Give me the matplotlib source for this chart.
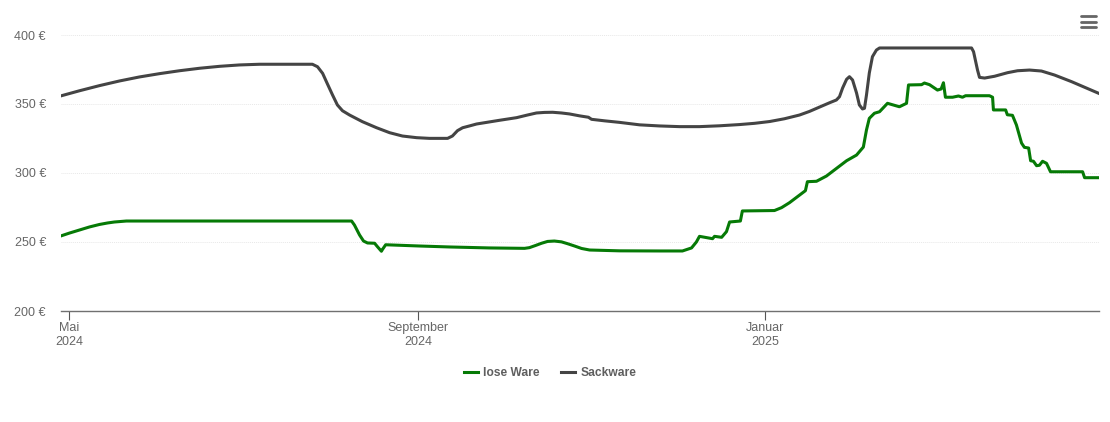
import pandas as pd
import matplotlib
matplotlib.use("Agg")
import matplotlib.pyplot as plt
from matplotlib.lines import Line2D

# days counted from 1 May 2024
START = pd.Timestamp("2024-05-01")

LOSE_DAYS = [-3, 0.2, 3.7, 7.2, 10.7, 13.6, 16, 20.2, 98.8, 99.5, 100.5, 102.3, 103.7, 105.1, 107.6, 108.6, 110, 110.4, 111.5,
             123.4, 134, 148, 160.4, 162.1, 164.3, 166.4, 168.5, 170.9, 173.4, 175.5, 178, 180.5, 183.3, 193.8, 207.9,
             216, 219.2, 220.9, 222, 226.6, 227.3, 229.8, 231.5, 232.6, 236.4, 237.1, 248.4, 250.9, 253.7,
             259.3, 260, 263.2, 266.7, 273.8, 277.3, 279.7, 280.8, 281.8, 283.6, 285.4, 288.2, 292.4, 294.9,
             295.6, 300.2, 301.2, 303, 305.8, 307.1, 307.9, 308.6, 311.1, 313.2, 314.6, 315.7, 324.1, 325.2,
             325.5, 329.8, 330.4, 332.2, 333.6, 335.4, 336.4, 337.9, 338.6, 339.6, 340.7, 341.7, 342.8, 344.2,
             345.6, 356.9, 357.6, 362.5]
LOSE_PRICE = [254.3, 256.5, 258.7, 260.9, 262.7, 263.8, 264.5, 265.2, 265.2, 265.2, 262.3, 255.1, 250.7, 249.3, 249.1, 246.6, 243.3, 244.7, 248,
              247.1, 246.4, 245.7, 245.4, 245.9, 247.5, 249.1, 250.4, 250.7, 250.1, 248.8, 247.1, 245.3, 244.2, 243.6, 243.5,
              243.5, 245.7, 250, 254.1, 252.4, 254.1, 253.4, 257.5, 264.5, 265.2, 272.5, 272.8, 274.9, 278.5,
              287.2, 293.7, 294, 297.8, 308.9, 313, 318.8, 331.2, 339.6, 343.3, 344.4, 350.5, 348, 350.5,
              363.8, 364, 365.2, 364, 360.1, 360.9, 365.4, 354.9, 354.9, 355.8, 354.9, 356, 356, 354.9,
              345.7, 345.7, 342.2, 341.8, 334.8, 321.7, 318.6, 318.1, 308.9, 308.5, 305.3, 305.6, 308.5, 307,
              300.9, 300.9, 296.6, 296.6]

SACK_DAYS = [-3, 3.7, 10.7, 17.8, 24.8, 31.9, 38.9, 46, 53, 60, 67.1, 85.7, 87.5, 89.3, 91, 92.8, 94.5, 96.3, 98.8,
             103.3, 108.3, 112.9, 117.4, 122.4, 126.9, 133.3, 135, 136.8, 138.6, 141, 143.5, 151.6, 157.6, 161.4,
             164.6, 167.4, 170.3, 173.4, 176.2, 179.8, 182.9, 184, 188.6, 193.8, 200.9, 207.9, 215, 222, 229,
             236.1, 241.4, 246.7, 251.9, 257.2, 260.7, 264.3, 267.8, 270.2, 271.3, 272.4, 273.8, 274.8, 275.9,
             277.3, 278.3, 279.4, 280.1, 280.8, 281.8, 282.9, 284.3, 285.4, 317.8, 318.5, 319.9, 320.6, 322.4,
             325.9, 330.5, 334, 338.2, 342.4, 347, 353, 362.5]
SACK_PRICE = [355.8, 359.6, 363.3, 366.7, 369.6, 372, 374.1, 375.9, 377.3, 378.3, 378.8, 378.8, 377, 372.2, 364.5, 356.5, 349.3, 345.1, 342,
              337.2, 332.8, 329.2, 326.8, 325.6, 325.1, 325.1, 326.8, 330.7, 332.8, 334.1, 335.5, 338.2, 340.1, 342,
              343.5, 343.9, 344, 343.5, 342.8, 341.4, 340.4, 338.9, 337.8, 336.7, 334.9, 334.1, 333.6, 333.6, 334.2,
              335.1, 336, 337.3, 339.3, 342, 344.6, 347.8, 350.9, 352.9, 355.3, 361.6, 367.9, 369.8, 367.4,
              358, 349.3, 346.4, 346.9, 356.5, 372.5, 384.3, 389.1, 390.6, 390.6, 387.9, 374.6, 369.3, 368.8,
              370.1, 372.7, 374.1, 374.6, 373.9, 371, 366.2, 357.8]

Y_TICKS = [200, 250, 300, 350, 400]
Y_LABELS = ["200 €", "250 €", "300 €", "350 €", "400 €"]
X_TICKS = ["2024-05-01", "2024-09-01", "2025-01-01"]
X_LABELS = ["Mai\n2024", "September\n2024", "Januar\n2025"]

W, H = 1110, 422
GREEN = "#067a06"
DARK = "#444444"

plt.rcParams["font.family"] = ["Liberation Sans", "DejaVu Sans"]
plt.rcParams["font.size"] = 9


def to_dates(days):
    return START + pd.to_timedelta(days, unit="D")


fig = plt.figure(figsize=(W / 100, H / 100), dpi=100)
ax = fig.add_axes([60.5 / W, 1 - 311 / H, 1038 / W, 276 / H])

ax.plot(to_dates(LOSE_DAYS), LOSE_PRICE, color=GREEN, lw=2.2, label="lose Ware", solid_joinstyle="round", zorder=3)
ax.plot(to_dates(SACK_DAYS), SACK_PRICE, color=DARK, lw=2.2, label="Sackware", solid_joinstyle="round", zorder=3)

ax.set_xlim(to_dates([-3, 362.5]))
ax.set_ylim(200, 400)

ax.set_yticks(Y_TICKS, Y_LABELS)
ax.set_xticks(pd.to_datetime(X_TICKS), X_LABELS)
ax.tick_params(axis="y", length=0, pad=10.5, labelcolor="#666666")
ax.tick_params(axis="x", length=6.5, width=0.8, color="#555555", pad=1.5, labelcolor="#666666")
ax.grid(axis="y", color="#e8e8e8", lw=0.7, ls=(0, (1, 1)))
ax.set_axisbelow(True)

for side in ["top", "right", "left"]:
    ax.spines[side].set_visible(False)
ax.spines["bottom"].set_color("#707070")
ax.spines["bottom"].set_linewidth(1.0)

leg = fig.legend(loc="center", bbox_to_anchor=(550 / W, 1 - 373 / H), ncol=2, frameon=False,
                 handlelength=1.2, handletextpad=0.45, columnspacing=1.75,
                 prop={"weight": "bold", "size": 8.64})
for t in leg.get_texts():
    t.set_color("#5f5f5f")

# menu icon top right
for py in [16, 21.5, 27]:
    fig.add_artist(Line2D([1080.5 / W, 1095.5 / W], [1 - py / H, 1 - py / H], color="#666666", lw=2.0,
                          solid_capstyle="round"))

fig.savefig("out.png", dpi=100)
